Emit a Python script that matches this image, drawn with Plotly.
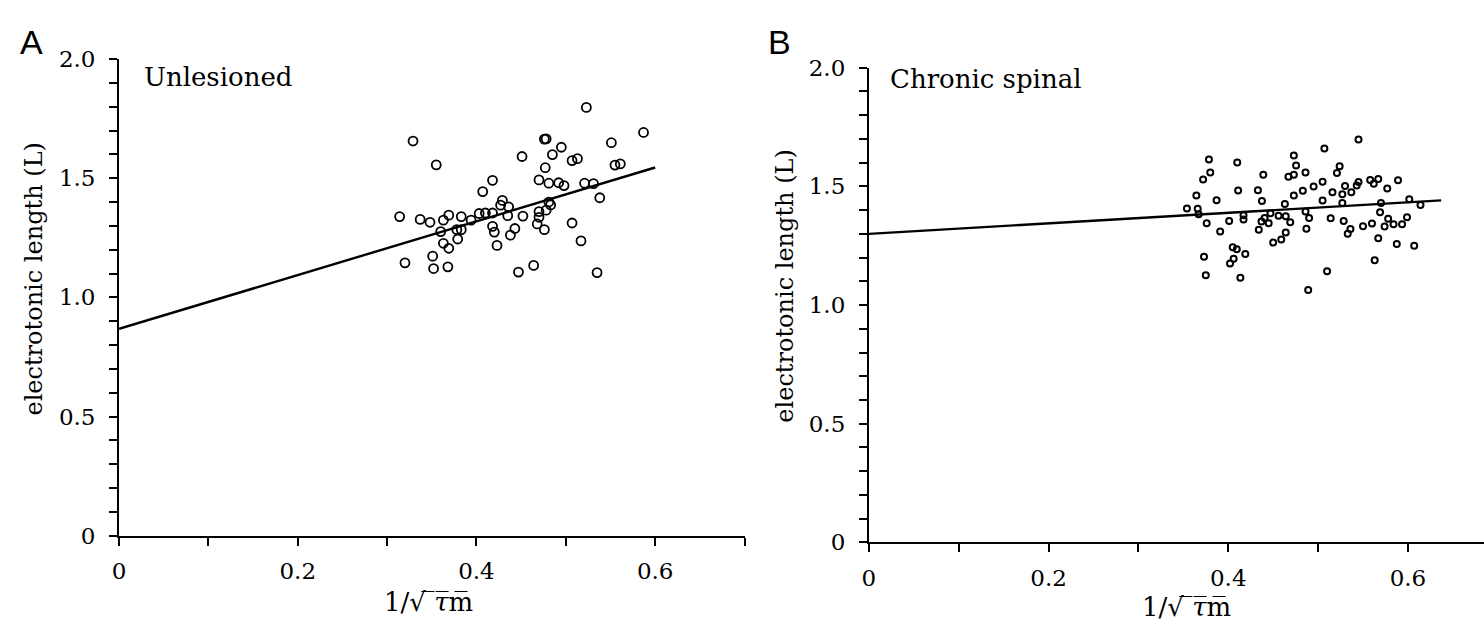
import plotly.graph_objects as go

# ---------------- data ----------------
A_x = [0.523, 0.329, 0.476, 0.478, 0.551, 0.495, 0.355, 0.451, 0.485, 0.507, 0.513,
       0.477, 0.555, 0.561, 0.418, 0.470, 0.481, 0.492, 0.498, 0.521, 0.531, 0.407,
       0.538, 0.429, 0.427, 0.436, 0.481, 0.483, 0.478, 0.435, 0.452, 0.470, 0.470,
       0.468, 0.476, 0.314, 0.337, 0.348, 0.363, 0.369, 0.383, 0.394, 0.403, 0.410,
       0.418, 0.360, 0.378, 0.383, 0.418, 0.420, 0.443, 0.438, 0.507, 0.379, 0.363,
       0.369, 0.423, 0.517, 0.351, 0.320, 0.352, 0.368, 0.447, 0.464, 0.535, 0.587]
A_y = [1.797, 1.656, 1.664, 1.665, 1.649, 1.630, 1.556, 1.591, 1.599, 1.574, 1.582,
       1.544, 1.555, 1.560, 1.491, 1.493, 1.479, 1.481, 1.469, 1.479, 1.477, 1.444,
       1.418, 1.407, 1.387, 1.380, 1.400, 1.388, 1.366, 1.343, 1.341, 1.360, 1.336,
       1.308, 1.284, 1.339, 1.327, 1.315, 1.324, 1.345, 1.339, 1.324, 1.352, 1.354,
       1.354, 1.276, 1.284, 1.284, 1.298, 1.274, 1.289, 1.261, 1.312, 1.245, 1.227,
       1.206, 1.218, 1.237, 1.173, 1.145, 1.121, 1.128, 1.106, 1.134, 1.104, 1.692]

B_x = [0.3785, 0.410, 0.473, 0.507, 0.380, 0.372, 0.439, 0.4755, 0.467, 0.473, 0.486,
       0.524, 0.521, 0.3645, 0.411, 0.433, 0.473, 0.483, 0.495, 0.505, 0.516, 0.387,
       0.4375, 0.505, 0.463, 0.354, 0.366, 0.367, 0.417, 0.417, 0.447, 0.456, 0.464,
       0.486, 0.490, 0.514, 0.376, 0.401, 0.4405, 0.437, 0.445, 0.469, 0.391, 0.434,
       0.487, 0.464, 0.450, 0.459, 0.405, 0.4095, 0.419, 0.373, 0.406, 0.402, 0.375,
       0.4135, 0.510, 0.489,
       0.545, 0.530, 0.527, 0.537, 0.545, 0.543, 0.558, 0.562, 0.567, 0.589, 0.577,
       0.527, 0.570, 0.6015, 0.614, 0.5285, 0.569, 0.578, 0.599, 0.536, 0.533, 0.550,
       0.560, 0.574, 0.584, 0.5935, 0.567, 0.5876, 0.607, 0.563]
B_y = [1.613, 1.600, 1.630, 1.659, 1.558, 1.529, 1.549, 1.588, 1.541, 1.549, 1.558,
       1.585, 1.556, 1.461, 1.483, 1.484, 1.461, 1.481, 1.499, 1.519, 1.475, 1.442,
       1.438, 1.440, 1.426, 1.407, 1.406, 1.383, 1.378, 1.360, 1.387, 1.376, 1.374,
       1.394, 1.367, 1.366, 1.345, 1.354, 1.367, 1.352, 1.345, 1.349, 1.310, 1.317,
       1.321, 1.306, 1.263, 1.276, 1.243, 1.235, 1.215, 1.203, 1.195, 1.175, 1.126,
       1.115, 1.142, 1.063,
       1.697, 1.502, 1.467, 1.475, 1.518, 1.504, 1.527, 1.511, 1.531, 1.526, 1.491,
       1.430, 1.430, 1.446, 1.422, 1.354, 1.391, 1.364, 1.370, 1.320, 1.300, 1.332,
       1.344, 1.331, 1.340, 1.340, 1.281, 1.257, 1.250, 1.189]

fitA_x = [0.0, 0.600]
fitA_y = [0.868, 1.545]
fitB_x = [0.0, 0.637]
fitB_y = [1.300, 1.441]

x_tickvals = [0, 0.2, 0.4, 0.6]
x_ticktext = ["0", "0.2", "0.4", "0.6"]
x_minor = [0.1, 0.3, 0.5, 0.7]
y_tickvals = [0, 0.5, 1.0, 1.5, 2.0]
y_ticktext = ["0", "0.5", "1.0", "1.5", "2.0"]
y_minor = [0.1, 0.2, 0.3, 0.4, 0.6, 0.7, 0.8, 0.9, 1.1, 1.2, 1.3, 1.4, 1.6, 1.7, 1.8, 1.9]

# ---------------- figure ----------------
W, H = 1484, 636
SERIF = "DejaVu Serif"

fig = go.Figure()
fig.add_trace(go.Scatter(x=A_x, y=A_y, mode="markers", xaxis="x", yaxis="y",
                         marker=dict(symbol="circle-open", size=9, color="black",
                                     line=dict(width=1.8, color="black")),
                         showlegend=False))
fig.add_trace(go.Scatter(x=fitA_x, y=fitA_y, mode="lines", xaxis="x", yaxis="y",
                         line=dict(color="black", width=2.4), showlegend=False))
fig.add_trace(go.Scatter(x=B_x, y=B_y, mode="markers", xaxis="x2", yaxis="y2",
                         marker=dict(symbol="circle-open", size=6, color="black",
                                     line=dict(width=2, color="black")),
                         showlegend=False))
fig.add_trace(go.Scatter(x=fitB_x, y=fitB_y, mode="lines", xaxis="x2", yaxis="y2",
                         line=dict(color="black", width=2.4), showlegend=False))


def xax(domain, rng, anchor):
    return dict(domain=domain, range=rng, anchor=anchor, showgrid=False, zeroline=False,
                showline=True, linecolor="black", linewidth=2,
                ticks="outside", ticklen=8, tickwidth=1.6, tickcolor="black",
                tickmode="array", tickvals=x_tickvals, ticktext=x_ticktext,
                ticklabelstandoff=6,
                tickfont=dict(family=SERIF, size=23, color="black"),
                minor=dict(tickmode="array", tickvals=x_minor,
                           ticks="outside", ticklen=8, tickwidth=1.6, tickcolor="black",
                           showgrid=False))


def yax(domain, anchor):
    return dict(domain=domain, range=[0, 2.0], anchor=anchor, showgrid=False, zeroline=False,
                showline=True, linecolor="black", linewidth=2,
                ticks="outside", ticklen=8, tickwidth=1.6, tickcolor="black",
                tickmode="array", tickvals=y_tickvals, ticktext=y_ticktext,
                ticklabelstandoff=9,
                tickfont=dict(family=SERIF, size=23, color="black"),
                minor=dict(tickmode="array", tickvals=y_minor,
                           ticks="outside", ticklen=8, tickwidth=1.6, tickcolor="black",
                           showgrid=False))


fig.update_layout(
    width=W, height=H, margin=dict(l=0, r=0, t=0, b=0),
    paper_bgcolor="white", plot_bgcolor="white",
    xaxis=xax([112.6 / W, 741 / W], [0, 0.7], "y"),
    yaxis=yax([(H - 545) / H, (H - 48) / H], "x"),
    xaxis2=xax([866 / W, 1.0], [0, 0.6847], "y2"),
    yaxis2=yax([(H - 552) / H, (H - 57) / H], "x2"),
)

ann = []
ann.append(dict(text="A", x=25, y=30, font=dict(family="Liberation Sans", size=34)))
ann.append(dict(text="B", x=776, y=30, font=dict(family="Liberation Sans", size=34)))
ann.append(dict(text="Unlesioned", x=136, y=67, xanchor="left",
                font=dict(family=SERIF, size=26)))
ann.append(dict(text="Chronic spinal", x=885, y=69, xanchor="left",
                font=dict(family=SERIF, size=26)))
ann.append(dict(text="electrotonic length (L)", x=27, y=277, textangle=-90,
                font=dict(family=SERIF, size=24)))
ann.append(dict(text="electrotonic length (L)", x=782, y=285, textangle=-90,
                font=dict(family=SERIF, size=24)))
xt = "1/√\u00a0\u0305<i>τ\u0305</i>m\u0305"
ann.append(dict(text=xt, x=423, y=614, font=dict(family=SERIF, size=26)))
ann.append(dict(text=xt, x=1185, y=619, font=dict(family=SERIF, size=26)))
for a in ann:
    a["x"] = a["x"] / W
    a["y"] = 1 - a["y"] / H
    a.setdefault("xanchor", "center")
    a["yanchor"] = "middle"
    a.update(xref="paper", yref="paper", showarrow=False)
    a["font"]["color"] = "black"
fig.update_layout(annotations=ann)

fig.write_html("out.html")
